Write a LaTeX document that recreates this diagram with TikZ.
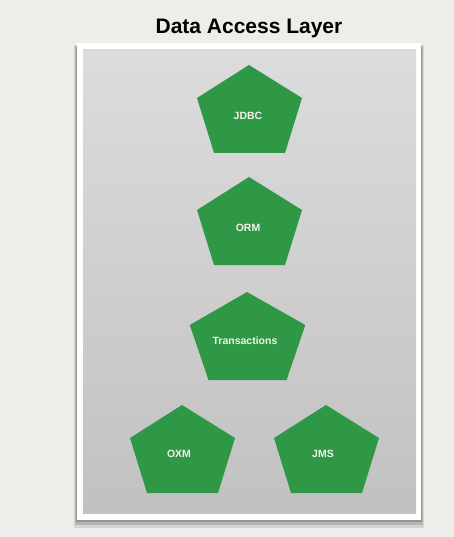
\documentclass[tikz,border=0pt]{standalone}
\usepackage{fontspec}
\setmainfont{Liberation Sans}
\definecolor{bgcol}{HTML}{EFEDE9}
\definecolor{pgreen}{HTML}{2F9846}
\definecolor{graytop}{HTML}{DCDCDC}
\definecolor{graybot}{HTML}{C1C1C1}
\definecolor{txtcol}{HTML}{F2F2EA}
\tikzset{
  pentbody/.style={fill=pgreen},
  pentlabel/.style={text=txtcol, font=\fontsize{10.5}{12}\selectfont\bfseries, inner sep=0pt},
  titletext/.style={font=\fontsize{21}{24}\selectfont\bfseries, text=black, inner sep=0pt, anchor=base}
}
\newcommand{\pentshape}[3]{%
  \fill[pentbody,shift={(#1,#2)}] (0,0) -- (#3*53,33) -- (#3*36,88) -- (-#3*35,88) -- (-#3*52,33) -- cycle;}
\begin{document}
\begin{tikzpicture}[x=1pt,y=-1pt]
  % background
  \fill[bgcol] (0,0) rectangle (454,537);
  \useasboundingbox (0,0) rectangle (454,537);
  % title
  \node[titletext] (title) at (249,33.5) {Data Access Layer};
  % shadow of frame
  \fill[black,opacity=0.10] (74,45) rectangle (424,528);
  \fill[black,opacity=0.14] (75,46) rectangle (423,525);
  \fill[black,opacity=0.18] (76,47) rectangle (422,522);
  % white frame
  \fill[white] (77,43) rectangle (421,520);
  % gray panel
  \shade[top color=graytop, bottom color=graybot] (83,50) rectangle (416,513);
  % pentagons
  \pentshape{249}{65}{1}
  \node[pentlabel] (jdbc) at (248,116) {JDBC};
  \pentshape{249}{177}{1}
  \node[pentlabel] (orm) at (248,228) {ORM};
  \pentshape{247}{292}{1.1}
  \node[pentlabel] (tx) at (245,341) {Transactions};
  \pentshape{182}{405}{1}
  \node[pentlabel] (oxm) at (179,454) {OXM};
  \pentshape{326}{405}{1}
  \node[pentlabel] (jms) at (323,454) {JMS};
\end{tikzpicture}
\end{document}
